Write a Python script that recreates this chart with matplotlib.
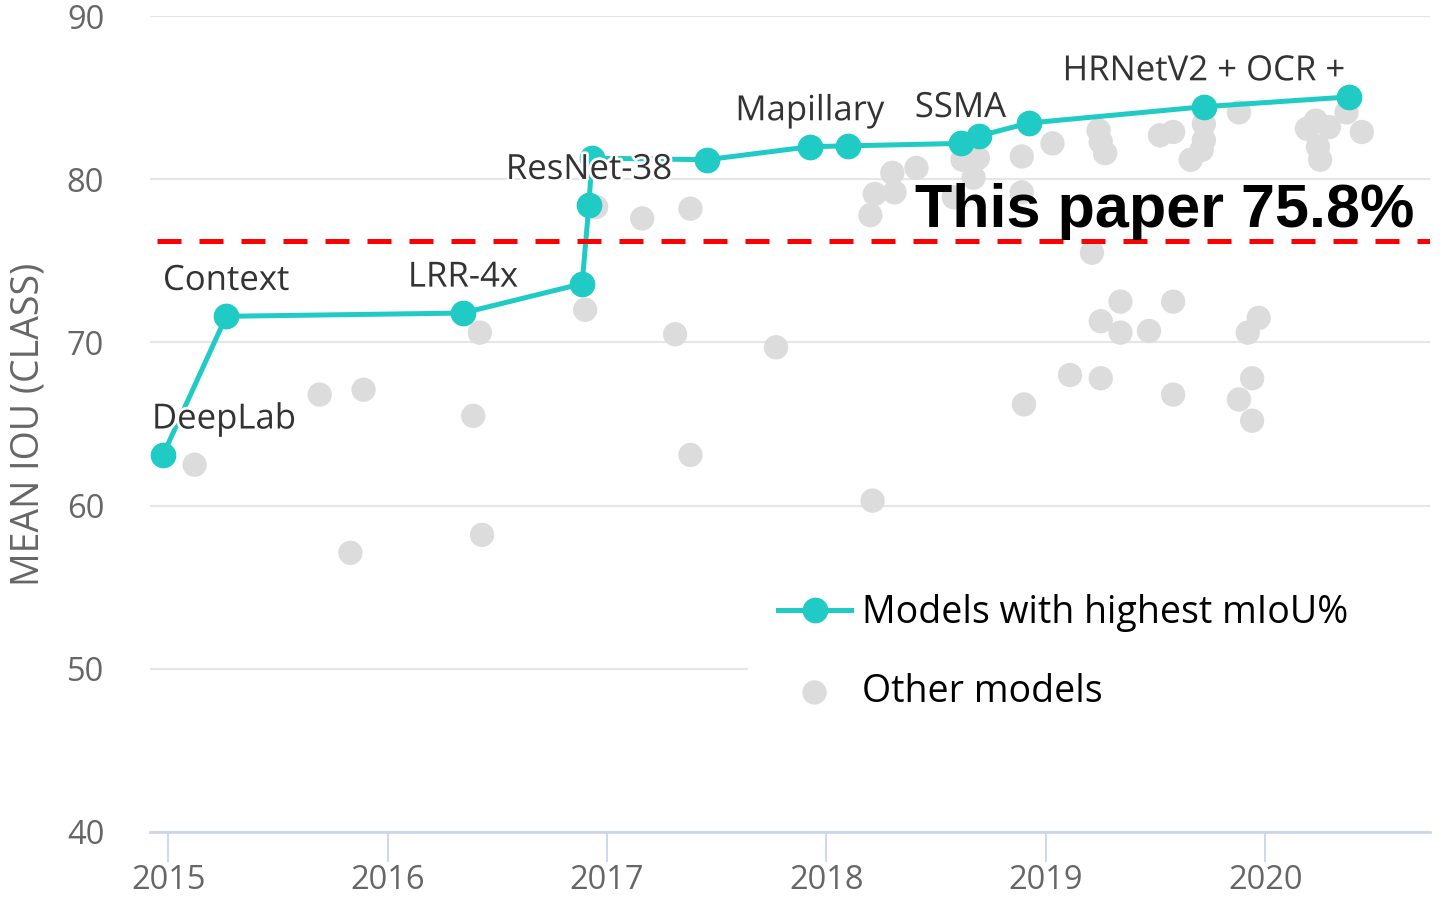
import numpy as np
import matplotlib
matplotlib.use("Agg")
import matplotlib.pyplot as plt
import matplotlib.patheffects as pe

plt.rcParams['font.family'] = ['Open Sans', 'DejaVu Sans']

# best models (year as decimal, mean IoU)
best_year = [2014.976, 2015.264, 2016.343, 2016.886, 2016.917, 2016.931, 2017.455,
             2017.925, 2018.098, 2018.611, 2018.693, 2018.923, 2019.720, 2020.381]
best_miou = [63.1, 71.6, 71.8, 73.6, 78.4, 81.3, 81.2,
             82.0, 82.05, 82.2, 82.65, 83.45, 84.45, 85.05]
best_names = {0: "DeepLab", 1: "Context", 2: "LRR-4x", 4: "ResNet-38",
              7: "Mapillary", 9: "SSMA", 12: "HRNetV2 + OCR +"}

# other models
other_year = [2015.12, 2015.69, 2015.89, 2015.83, 2016.42, 2016.39, 2016.43, 2016.90,
              2016.95, 2017.16, 2017.38, 2017.31, 2017.38, 2017.77, 2018.21, 2018.20,
              2018.22, 2018.31, 2018.30, 2018.41, 2018.58, 2018.67, 2018.62, 2018.69,
              2018.89, 2018.89, 2019.03, 2019.24, 2019.25, 2019.27, 2019.52, 2019.58,
              2019.72, 2019.72, 2019.71, 2019.66, 2019.88, 2020.19, 2020.23, 2020.29,
              2020.37, 2020.44, 2020.24, 2020.25, 2019.21, 2019.34, 2019.25, 2019.34,
              2019.47, 2019.58, 2019.97, 2019.92, 2019.11, 2019.25, 2018.90, 2019.58,
              2019.94, 2019.88, 2019.94]
other_miou = [62.5, 66.8, 67.1, 57.1, 70.6, 65.5, 58.2, 72.0,
              78.3, 77.6, 78.2, 70.5, 63.1, 69.7, 60.3, 77.8,
              79.1, 79.2, 80.4, 80.7, 78.9, 80.1, 81.2, 81.3,
              81.4, 79.2, 82.2, 83.0, 82.3, 81.6, 82.7, 82.9,
              83.4, 82.4, 81.8, 81.2, 84.1, 83.1, 83.6, 83.2,
              84.1, 82.9, 82.0, 81.2, 75.5, 72.5, 71.3, 70.6,
              70.7, 72.5, 71.5, 70.6, 68.0, 67.8, 66.2, 66.8,
              67.8, 66.5, 65.2]

this_paper = 76.2
years = [2015, 2016, 2017, 2018, 2019, 2020]

teal = '#21cbc5'
gray = '#dcdcdc'

fig = plt.figure(figsize=(14.54, 8.97), dpi=100)
ax = fig.add_axes([150/1454, 65.3/897, 1280/1454, 815.5/897])

ax.scatter(other_year, other_miou, s=17.5**2, color=gray, edgecolors='none', zorder=2,
           label='Other models')
ax.plot(best_year, best_miou, color=teal, lw=3.6, marker='o', ms=17.5, zorder=3,
        label='Models with highest mIoU%')

halo = [pe.withStroke(linewidth=4, foreground='white')]
for i, name in best_names.items():
    if i == 0:
        ax.annotate(name, (best_year[i], best_miou[i]), xytext=(-8, 25.5),
                    textcoords='offset points', ha='left', va='center',
                    fontsize=25, color='#333333', path_effects=halo, zorder=4)
    else:
        ax.annotate(name, (best_year[i], best_miou[i]), xytext=(0, 25.5),
                    textcoords='offset points', ha='center', va='center',
                    fontsize=25, color='#333333', path_effects=halo, zorder=4)

ax.axhline(this_paper, xmin=0.0055, xmax=1, color='red', lw=3.6,
           dashes=(4.8, 3.6), zorder=5)
ax.text(2020.68, this_paper + 0.9, "This paper 75.8%", ha='right', va='baseline',
        fontsize=44, fontweight='bold', family=['Liberation Sans', 'DejaVu Sans'],
        color='black', zorder=6)

ax.set_xlim(2014.9166, 2020.7507)
ax.set_ylim(40, 90)
ax.set_xticks(years)
ax.set_yticks([40, 50, 60, 70, 80, 90])
ax.yaxis.grid(True, color='#e6e6e6', lw=1.6)
ax.set_axisbelow(True)
for s in ['left', 'right', 'top']:
    ax.spines[s].set_visible(False)
ax.spines['bottom'].set_color('#ccd6eb')
ax.spines['bottom'].set_linewidth(2)
ax.tick_params(axis='x', length=21.5, width=1.3, color='#ccd6eb', pad=2,
               labelsize=23.5, labelcolor='#666666')
ax.tick_params(axis='y', length=0, pad=33, labelsize=23.5, labelcolor='#666666')
ax.set_ylabel("MEAN IOU (CLASS)", fontsize=27, color='#666666', labelpad=14)

h, l = ax.get_legend_handles_labels()
leg = ax.legend(h[::-1], l[::-1], loc='upper left',
                bbox_to_anchor=(748/1454, 1 - 573/897, 682/1454, 0.01),
                bbox_transform=fig.transFigure, mode='expand', frameon=True,
                facecolor='white', edgecolor='none', framealpha=1, fontsize=27,
                handlelength=1.95, handletextpad=0.28, labelspacing=1.1,
                borderpad=0.8, borderaxespad=0)
leg.set_zorder(7)

fig.savefig("out.png", dpi=100)
